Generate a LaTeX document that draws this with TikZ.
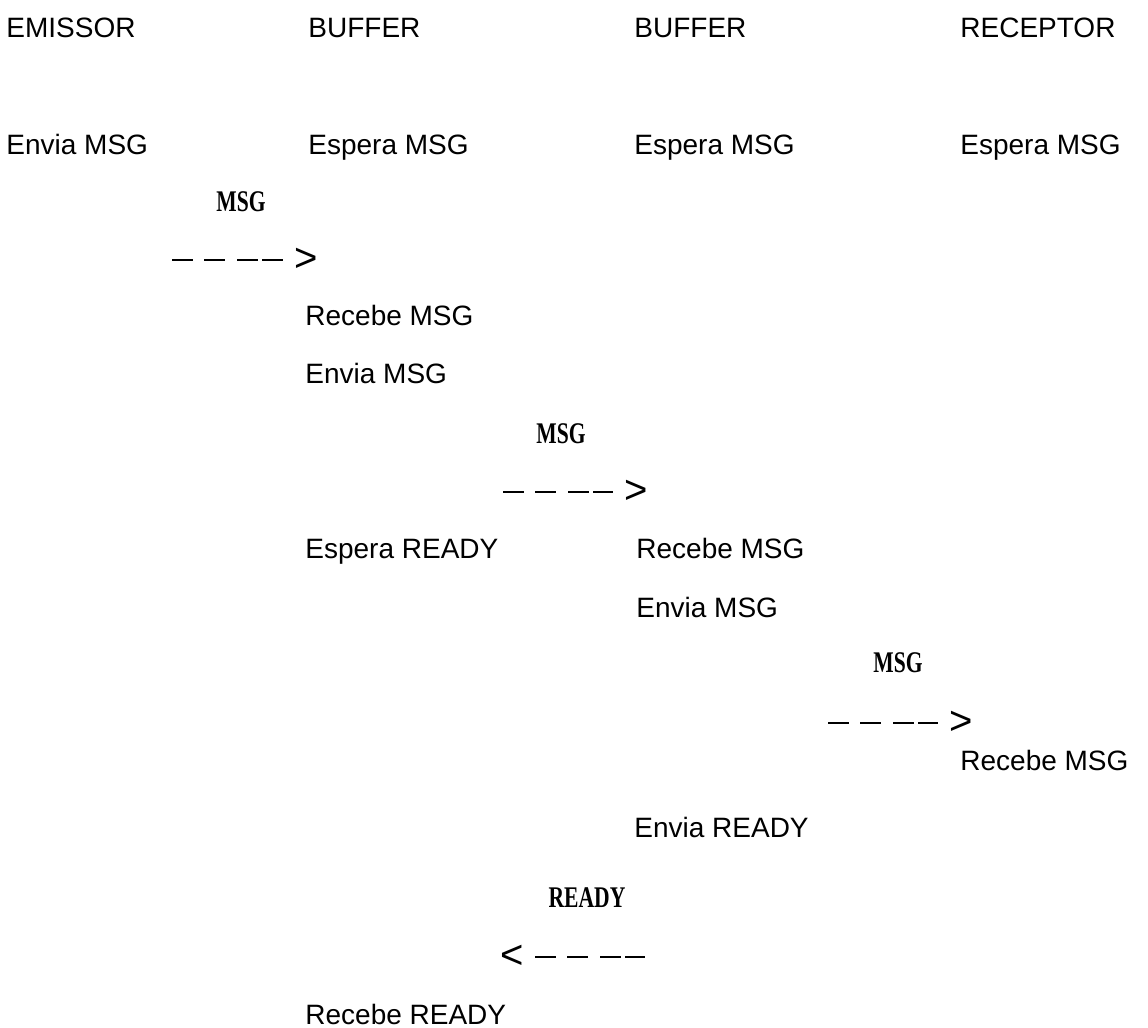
\documentclass[tikz,border=0pt]{standalone}
\usepackage{fontspec}
\usepackage{graphicx}
\setmainfont{Liberation Sans}
\newfontfamily\labelfont{Liberation Serif}
\usetikzlibrary{positioning}
\tikzset{state/.style={anchor=base west, inner sep=0pt, font=\fontsize{14}{16}\selectfont},
msg/.style={anchor=base, inner sep=0pt, font=\fontsize{15}{17}\selectfont\labelfont\bfseries},
tip/.style={inner sep=0pt, font=\fontsize{20}{20}\selectfont},
line/.style={line width=1.2pt, dash pattern=on 10.5pt off 5.5pt on 10.5pt off 6pt on 10.5pt off 2pt on 10.5pt off 20pt}
}

\begin{document}
\begin{tikzpicture}[x=0.5pt,y=-0.5pt]
\useasboundingbox (0,0) rectangle (1148,1028);
\node[state] (em) at (6,38) {EMISSOR};
\node[state] (b1) at (308,38) {BUFFER};
\node[state] (b2) at (634,38) {BUFFER};
\node[state] (re) at (960,38) {RECEPTOR};
\node[state] (e1) at (6,155) {Envia MSG};
\node[state] (s1) at (308,155) {Espera MSG};
\node[state] (s2) at (634,155) {Espera MSG};
\node[state] (s3) at (960,155) {Espera MSG};
 % the messages passed from one column to the next
\node[msg] (m1) at (241,211) {\scalebox{0.72}[1]{MSG}};
\coordinate (p1) at (172,260);
\node[tip] (t1) at (306,260) {>};
\draw[line, shorten >=5.6pt] (p1) -- (t1);
\node[state] (r1) at (305,325) {Recebe MSG};
\node[state] (e2) at (305,383) {Envia MSG};
\node[msg] (m2) at (561,443) {\scalebox{0.72}[1]{MSG}};
\coordinate (p2) at (503,492);
\node[tip] (t2) at (636,492) {>};
\draw[line, shorten >=5.6pt] (p2) -- (t2);
\node[state] (s4) at (305,558) {Espera READY};
\node[state] (r2) at (636,558) {Recebe MSG};
\node[state] (e3) at (636,617) {Envia MSG};
\node[msg] (m3) at (898,672) {\scalebox{0.72}[1]{MSG}};
\coordinate (p3) at (828,723);
\node[tip] (t3) at (961,723) {>};
\draw[line, shorten >=5.6pt] (p3) -- (t3);
\node[state] (r3) at (960,770) {Recebe MSG};
\node[state] (e4) at (634,837) {Envia READY};
\node[msg] (m4) at (587,907) {\scalebox{0.72}[1]{READY}};
\node[tip] (t4) at (512,957) {<};
\coordinate (p4) at (645,957);
\draw[line, shorten <=5.6pt] (t4) -- (p4);
\node[state] (r4) at (305,1024) {Recebe READY};
\end{tikzpicture}
\end{document}
